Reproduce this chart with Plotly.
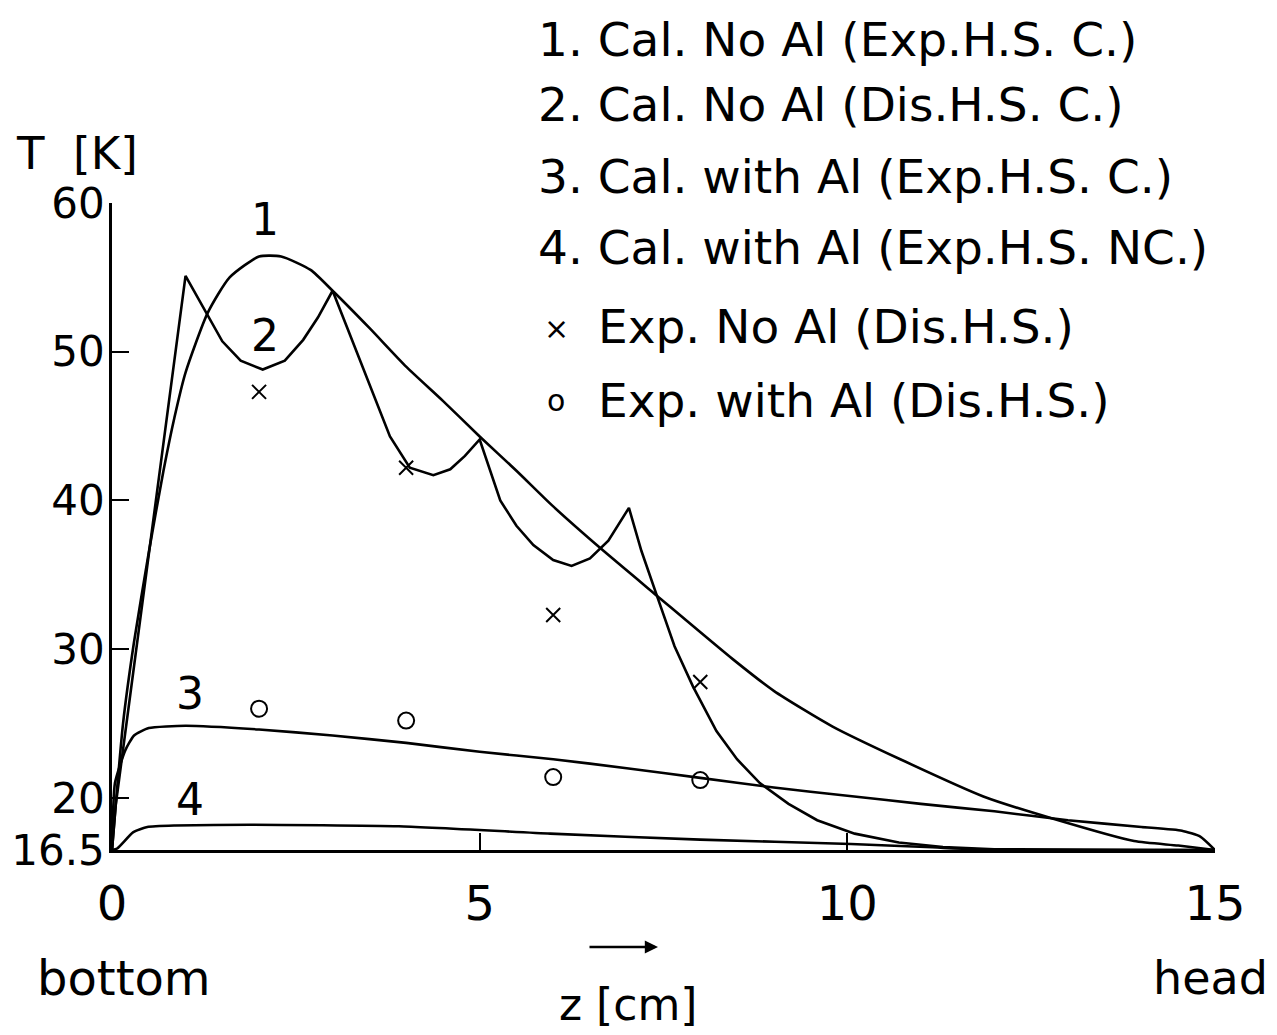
import plotly.graph_objects as go

# ---- data ----
c1_x = [0, 0.05, 0.15, 0.3, 0.5, 0.7, 0.85, 1.0, 1.3, 1.6, 2.0, 2.3, 2.7, 3.0, 3.5, 4.0, 4.5, 5.0, 5.5, 6.0,
        6.64, 7.41, 8.45, 9.0, 9.8, 10.72, 11.85, 12.8, 13.9, 14.5, 15.0]
c1_y = [16.5, 19.5, 25.0, 30.5, 36.5, 42.0, 45.6, 48.6, 52.6, 55.0, 56.4, 56.4, 55.5, 54.1, 51.6, 49.0, 46.7, 44.3, 42.0, 39.6,
        36.8, 33.6, 29.3, 27.2, 24.8, 22.6, 20.1, 18.6, 17.1, 16.8, 16.5]

c2_x = [0, 0.05, 1.0, 1.15, 1.3, 1.5, 1.75, 2.05, 2.35, 2.6, 2.8, 3.0, 3.2, 3.47, 3.78, 4.05, 4.37, 4.6, 4.8, 5.0,
        5.28, 5.5, 5.73, 6.0, 6.25, 6.5, 6.75, 7.03, 7.2, 7.41, 7.65, 7.9, 8.22, 8.5, 8.81, 9.2, 9.59, 10.1, 10.7,
        11.3, 12.0, 15.0]
c2_y = [16.5, 19.5, 55.1, 53.8, 52.4, 50.7, 49.4, 48.8, 49.4, 50.8, 52.3, 54.1, 51.6, 48.2, 44.3, 42.2, 41.7, 42.1, 43.0, 44.1,
        40.0, 38.3, 37.0, 36.0, 35.6, 36.1, 37.3, 39.5, 36.6, 33.6, 30.2, 27.5, 24.5, 22.6, 21.0, 19.6, 18.5, 17.6, 17.0,
        16.7, 16.55, 16.5]

c3_x = [0, 0.04, 0.18, 0.3, 0.5, 1.0, 2.0, 3.0, 4.0, 5.0, 6.0, 7.0, 8.0, 9.0, 10.0, 11.0, 12.0, 13.0, 14.0, 14.55, 14.8, 15.0]
c3_y = [16.5, 21.0, 23.2, 24.2, 24.7, 24.85, 24.6, 24.2, 23.7, 23.1, 22.6, 22.0, 21.35, 20.7, 20.15, 19.6, 19.1, 18.5, 18.05, 17.8, 17.4, 16.5]

c4_x = [0, 0.07, 0.29, 0.48, 0.86, 1.88, 3.9, 5.96, 8.0, 10.05, 11.07, 12.0, 15.0]
c4_y = [16.5, 16.6, 17.7, 18.05, 18.15, 18.2, 18.1, 17.6, 17.2, 16.9, 16.7, 16.5, 16.5]

exp_noal_x = [2, 4, 6, 8]
exp_noal_y = [47.3, 42.2, 32.3, 27.8]
exp_al_x = [2, 4, 6, 8]
exp_al_y = [26.0, 25.2, 21.4, 21.2]

x_ticks = [0, 5, 10, 15]
x_ticklabels = ["0", "5", "10", "15"]
y_ticks = [16.5, 20, 30, 40, 50, 60]
y_ticklabels = ["16.5", "20", "30", "40", "50", "60"]

legend_lines = [
    "1. Cal. No Al (Exp.H.S. C.)",
    "2. Cal. No Al (Dis.H.S. C.)",
    "3. Cal. with Al (Exp.H.S. C.)",
    "4. Cal. with Al (Exp.H.S. NC.)",
    "Exp. No Al (Dis.H.S.)",
    "Exp. with Al (Dis.H.S.)",
]
legend_symbols = ["", "", "", "", "\u00d7", "o"]
curve_labels = ["1", "2", "3", "4"]
curve_label_x = [2.08, 2.08, 1.06, 1.06]
curve_label_y = [58.9, 51.1, 27.0, 19.9]

# ---- layout geometry (page pixels; the page body adds an 8px offset) ----
OFF = 8
PAGE_W, PAGE_H = 1277, 1035
W, H = PAGE_W - OFF, PAGE_H - OFF
L, R, T, B = 112, 1215, 203, 850   # plot area in page pixels
FONT = "DejaVu Sans"


def px(xp):
    return (xp - L) / (R - L)


def py(yp):
    return (B - yp) / (B - T)


line = dict(color="black", width=2.6)
fig = go.Figure()
fig.add_trace(go.Scatter(x=c1_x, y=c1_y, mode="lines", line=dict(shape="spline", smoothing=0.6, **line)))
fig.add_trace(go.Scatter(x=c2_x, y=c2_y, mode="lines", line=dict(shape="linear", **line)))
fig.add_trace(go.Scatter(x=c3_x, y=c3_y, mode="lines", line=dict(shape="spline", smoothing=0.5, **line)))
fig.add_trace(go.Scatter(x=c4_x, y=c4_y, mode="lines", line=dict(shape="spline", smoothing=0.5, **line)))
fig.add_trace(go.Scatter(x=exp_noal_x, y=exp_noal_y, mode="markers",
                         marker=dict(symbol="x-thin", size=14, line=dict(color="black", width=2))))
fig.add_trace(go.Scatter(x=exp_al_x, y=exp_al_y, mode="markers",
                         marker=dict(symbol="circle-open", size=16, color="black", line=dict(color="black", width=2))))

ann = []
for t, xx, yy in zip(curve_labels, curve_label_x, curve_label_y):
    ann.append(dict(x=xx, y=yy, xref="x", yref="y", text=t, showarrow=False,
                    font=dict(family=FONT, size=44, color="black")))

leg_y = [40, 104, 176, 248, 326, 400]
for t, s, yy in zip(legend_lines, legend_symbols, leg_y):
    if s:
        ann.append(dict(x=px(556), y=py(yy + (0 if s == "o" else 2)), xref="paper", yref="paper", text=s,
                        showarrow=False, xanchor="center", yanchor="middle",
                        font=dict(family=FONT, size=30, color="black")))
        x0 = 596
    else:
        x0 = 536
    ann.append(dict(x=px(x0), y=py(yy), xref="paper", yref="paper", text=t, showarrow=False,
                    xanchor="left", yanchor="middle", font=dict(family=FONT, size=47, color="black")))

ann.append(dict(x=px(14), y=py(154), xref="paper", yref="paper", text="T  [K]", showarrow=False,
                xanchor="left", yanchor="middle", font=dict(family=FONT, size=45, color="black")))
ann.append(dict(x=px(124), y=py(978), xref="paper", yref="paper", text="bottom", showarrow=False,
                xanchor="center", yanchor="middle", font=dict(family=FONT, size=48, color="black")))
ann.append(dict(x=px(1270), y=py(978), xref="paper", yref="paper", text="head", showarrow=False,
                xanchor="right", yanchor="middle", font=dict(family=FONT, size=46, color="black")))
ann.append(dict(x=px(628), y=py(1004), xref="paper", yref="paper", text="z [cm]", showarrow=False,
                xanchor="center", yanchor="middle", font=dict(family=FONT, size=44, color="black")))
ann.append(dict(x=px(658), y=py(947), xref="paper", yref="paper", ax=-70, ay=0,
                axref="pixel", ayref="pixel", text="", showarrow=True, arrowhead=2, arrowsize=1.1,
                arrowwidth=2.4, arrowcolor="black"))

fig.update_layout(
    width=W, height=H,
    margin=dict(l=L - OFF, r=PAGE_W - R, t=T - OFF, b=PAGE_H - B, autoexpand=False),
    paper_bgcolor="white", plot_bgcolor="white",
    showlegend=False,
    annotations=ann,
    xaxis=dict(range=[0, 15], tickvals=x_ticks, ticktext=x_ticklabels, ticks="inside", ticklen=17,
               tickwidth=2, tickcolor="black", showgrid=False, zeroline=False, showline=True, automargin=False,
               ticklabelstandoff=10,
               linecolor="black", linewidth=2.6, tickfont=dict(family=FONT, size=48, color="black")),
    yaxis=dict(range=[16.5, 60], tickvals=y_ticks, ticktext=y_ticklabels, ticks="inside", ticklen=17,
               tickwidth=2, tickcolor="black", showgrid=False, zeroline=False, showline=True, automargin=False,
               ticklabelstandoff=-4,
               linecolor="black", linewidth=2.6, tickfont=dict(family=FONT, size=42, color="black")),
)

fig.write_html("out.html")
